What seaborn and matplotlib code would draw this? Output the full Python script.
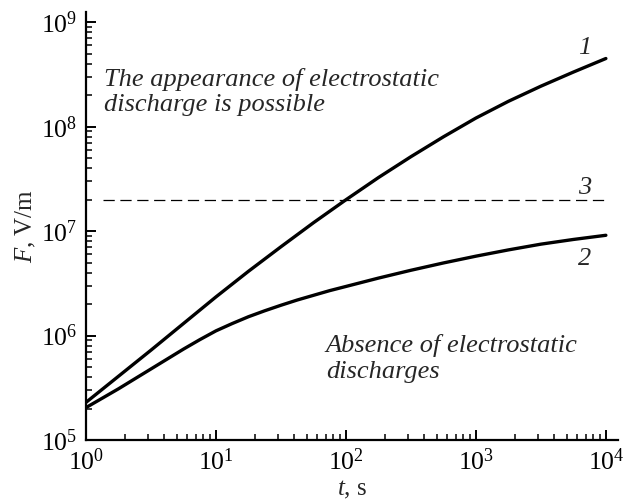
import matplotlib
matplotlib.use("Agg")
import matplotlib.pyplot as plt
import seaborn as sns
import pandas as pd
import numpy as np
from matplotlib.ticker import LogLocator, LogFormatterSciNotation, NullFormatter

# ---- data ----
t_curve1 = [1, 1.778, 3.162, 5.623, 10, 17.78, 31.62, 56.23, 100, 177.8,
            316.2, 562.3, 1000, 1778, 3162, 5623, 10000]
F_curve1 = [2.291e5, 4.074e5, 7.244e5, 1.303e6, 2.344e6, 4.121e6, 7.079e6,
            1.202e7, 1.995e7, 3.254e7, 5.157e7, 7.990e7, 1.209e8, 1.748e8,
            2.441e8, 3.331e8, 4.493e8]
t_curve2 = [1, 1.334, 1.778, 2.371, 3.162, 4.217, 5.623, 7.499, 10, 13.34,
            17.78, 23.71, 31.62, 42.17, 56.23, 74.99, 100, 177.8, 316.2,
            562.3, 1000, 1778, 3162, 5623, 10000]
F_curve2 = [2.042e5, 2.512e5, 3.090e5, 3.846e5, 4.786e5, 5.957e5, 7.413e5,
            9.120e5, 1.109e6, 1.303e6, 1.514e6, 1.726e6, 1.950e6, 2.188e6,
            2.427e6, 2.692e6, 2.951e6, 3.548e6, 4.217e6, 4.955e6, 5.754e6,
            6.607e6, 7.499e6, 8.318e6, 9.120e6]
threshold_t = [1.35, 10000]
threshold_F = [2.0e7, 2.0e7]
curve_labels = ["1", "2", "3"]
region_text_top = ["The appearance of electrostatic", "discharge is possible"]
region_text_bottom = ["Absence of electrostatic", "discharges"]

sns.set_style("ticks")
plt.rcParams["font.family"] = ["Liberation Serif", "DejaVu Serif"]
plt.rcParams["mathtext.fontset"] = "custom"
plt.rcParams["mathtext.rm"] = "Liberation Serif"
plt.rcParams["mathtext.it"] = "Liberation Serif:italic"
plt.rcParams["mathtext.bf"] = "Liberation Serif:bold"

df = pd.concat([
    pd.DataFrame({"t": t_curve1, "F": F_curve1, "curve": "1"}),
    pd.DataFrame({"t": t_curve2, "F": F_curve2, "curve": "2"}),
])

fig = plt.figure(figsize=(6.23, 5.04), dpi=100)
ax = fig.add_axes([0.138, 0.127, 0.854, 0.849])

sns.lineplot(data=df, x="t", y="F", hue="curve", palette=["black", "black"],
             linewidth=2.4, legend=False, ax=ax, sort=True)
sns.lineplot(x=threshold_t, y=threshold_F, color="black", linewidth=0.9,
             ax=ax, legend=False)
ax.lines[-1].set_dashes((9, 4.5))

ax.set_xscale("log")
ax.set_yscale("log")
ax.set_xlim(1, 1.24e4)
ax.set_ylim(1e5, 1.25e9)

for sp in ["top", "right"]:
    ax.spines[sp].set_visible(False)
for sp in ["left", "bottom"]:
    ax.spines[sp].set_linewidth(1.6)
    ax.spines[sp].set_color("black")

ax.xaxis.set_major_locator(LogLocator(base=10, numticks=10))
ax.yaxis.set_major_locator(LogLocator(base=10, numticks=10))
ax.xaxis.set_minor_locator(LogLocator(base=10, subs=np.arange(2, 10), numticks=20))
ax.yaxis.set_minor_locator(LogLocator(base=10, subs=np.arange(2, 10), numticks=20))
ax.xaxis.set_minor_formatter(NullFormatter())
ax.yaxis.set_minor_formatter(NullFormatter())
ax.xaxis.set_major_formatter(LogFormatterSciNotation())
ax.yaxis.set_major_formatter(LogFormatterSciNotation())

ax.tick_params(which="major", direction="in", length=7, width=1.4,
               labelsize=18.5, colors="black")
ax.tick_params(which="minor", direction="in", length=4, width=1.1, colors="black")
ax.tick_params(axis="x", which="major", pad=6)
ax.tick_params(axis="y", which="major", pad=6)

ax.set_xlabel(r"$\it{t}$, s", fontsize=18, labelpad=3)
ax.set_ylabel(r"$\it{F}$, V/m", fontsize=18, labelpad=2)

tfs = 19
ax.text(1.38, 2.44e8, region_text_top[0], fontsize=tfs, style="italic",
        ha="left", va="baseline")
ax.text(1.38, 1.40e8, region_text_top[1], fontsize=tfs, style="italic",
        ha="left", va="baseline")
ax.text(70, 7.03e5, region_text_bottom[0], fontsize=tfs, style="italic",
        ha="left", va="baseline")
ax.text(70, 3.95e5, region_text_bottom[1], fontsize=tfs, style="italic",
        ha="left", va="baseline")

ax.text(6100, 4.91e8, curve_labels[0], fontsize=tfs, style="italic",
        ha="left", va="baseline")
ax.text(6100, 4.76e6, curve_labels[1], fontsize=tfs, style="italic",
        ha="left", va="baseline")
ax.text(6100, 2.29e7, curve_labels[2], fontsize=tfs, style="italic",
        ha="left", va="baseline")

fig.savefig("out.png", dpi=100)
